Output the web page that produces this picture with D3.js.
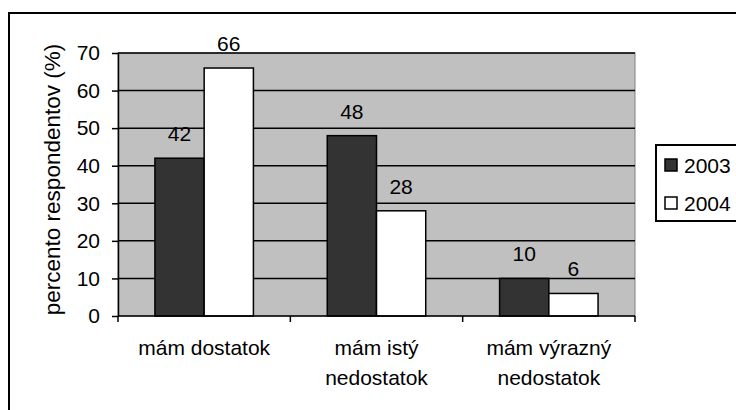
<!DOCTYPE html>
<html><head><meta charset="utf-8">
<script src="https://cdn.jsdelivr.net/npm/d3@7"></script>
<style>
html,body{margin:0;padding:0;background:#fff;}
svg{display:block;font-family:"Liberation Sans",Arial,sans-serif;}
</style></head>
<body>
<svg id="c" width="736" height="410"></svg>
<script>
const categories = [["mám dostatok"], ["mám istý","nedostatok"], ["mám výrazný","nedostatok"]];
const seriesNames = ["2003","2004"];
const values2003 = [42, 48, 10];
const values2004 = [66, 28, 6];
const yTicks = [0,10,20,30,40,50,60,70];
const yTitle = "percento respondentov (%)";

const svg = d3.select("#c");
const L = 118, R = 635, T = 53, B = 316;
const FS = 21;
const fills = ["#333333", "#ffffff"];
const series = [values2003, values2004];

// outer frame
svg.append("rect").attr("x",9).attr("y",13).attr("width",900).attr("height",600)
  .attr("fill","none").attr("stroke","#000").attr("stroke-width",2);

const x = d3.scaleBand().domain(d3.range(categories.length)).range([L,R]).padding(0);
const y = d3.scaleLinear().domain([0,70]).range([B,T]);

// plot area
svg.append("rect").attr("x",L).attr("y",T).attr("width",R-L).attr("height",B-T)
  .attr("fill","#c0c0c0").attr("stroke","#808080").attr("stroke-width",1);

// gridlines
svg.append("g").selectAll("line").data(yTicks.filter(d=>d>0)).join("line")
  .attr("x1",L).attr("x2",R).attr("y1",d=>y(d)).attr("y2",d=>y(d))
  .attr("stroke","#000").attr("stroke-width",1.5);

const bw = x.bandwidth()/3.5;
const off = x.bandwidth()*0.75/3.5;
series.forEach((vals,si)=>{
  svg.append("g").selectAll("rect").data(vals).join("rect")
    .attr("x",(d,i)=>x(i)+off+si*bw).attr("y",d=>y(d))
    .attr("width",bw).attr("height",d=>y(0)-y(d))
    .attr("fill",fills[si]).attr("stroke","#000").attr("stroke-width",1.5);
  svg.append("g").selectAll("text").data(vals).join("text")
    .attr("x",(d,i)=>x(i)+off+si*bw+bw/2).attr("y",d=>y(d)-17)
    .attr("text-anchor","middle").attr("font-size",FS).attr("fill","#000")
    .text(d=>d);
});

// y axis
const ya = svg.append("g").attr("transform",`translate(${L},0)`)
  .call(d3.axisLeft(y).tickValues(yTicks).tickSize(6).tickSizeOuter(0).tickPadding(12));
ya.select(".domain").attr("stroke","#000").attr("stroke-width",1.5);
ya.selectAll(".tick line").attr("stroke","#000").attr("stroke-width",1.5);
ya.selectAll(".tick text").attr("font-size",FS).attr("font-family","Liberation Sans, Arial, sans-serif").attr("fill","#000");

// x axis
svg.append("line").attr("x1",L).attr("x2",R).attr("y1",B).attr("y2",B).attr("stroke","#000").attr("stroke-width",1.5);
svg.append("g").selectAll("line").data(d3.range(categories.length+1)).join("line")
  .attr("x1",i=>i<categories.length?x(i):R).attr("x2",i=>i<categories.length?x(i):R)
  .attr("y1",B).attr("y2",B+6).attr("stroke","#000").attr("stroke-width",1.5);

const cl = svg.append("g").selectAll("text").data(categories).join("text")
  .attr("x",(d,i)=>x(i)+x.bandwidth()/2).attr("y",355)
  .attr("text-anchor","middle").attr("font-size",FS).attr("fill","#000");
cl.selectAll("tspan").data(d=>d).join("tspan")
  .attr("x",function(){return d3.select(this.parentNode).attr("x");})
  .attr("dy",(d,i)=>i===0?0:30).text(d=>d);

// y title
svg.append("text").attr("transform",`translate(60,${(T+B)/2-5}) rotate(-90)`)
  .attr("text-anchor","middle").attr("font-size",22.5).attr("fill","#000").text(yTitle);

// legend
const lg = svg.append("g");
lg.append("rect").attr("x",656).attr("y",145).attr("width",120).attr("height",76)
  .attr("fill","#fff").attr("stroke","#000").attr("stroke-width",2);
seriesNames.forEach((n,i)=>{
  lg.append("rect").attr("x",665).attr("y",159+i*38).attr("width",12).attr("height",12)
    .attr("fill",fills[i]).attr("stroke","#000").attr("stroke-width",1.5);
  lg.append("text").attr("x",684).attr("y",173+i*38).attr("font-size",FS).attr("fill","#000").text(n);
});
</script>
</body></html>
